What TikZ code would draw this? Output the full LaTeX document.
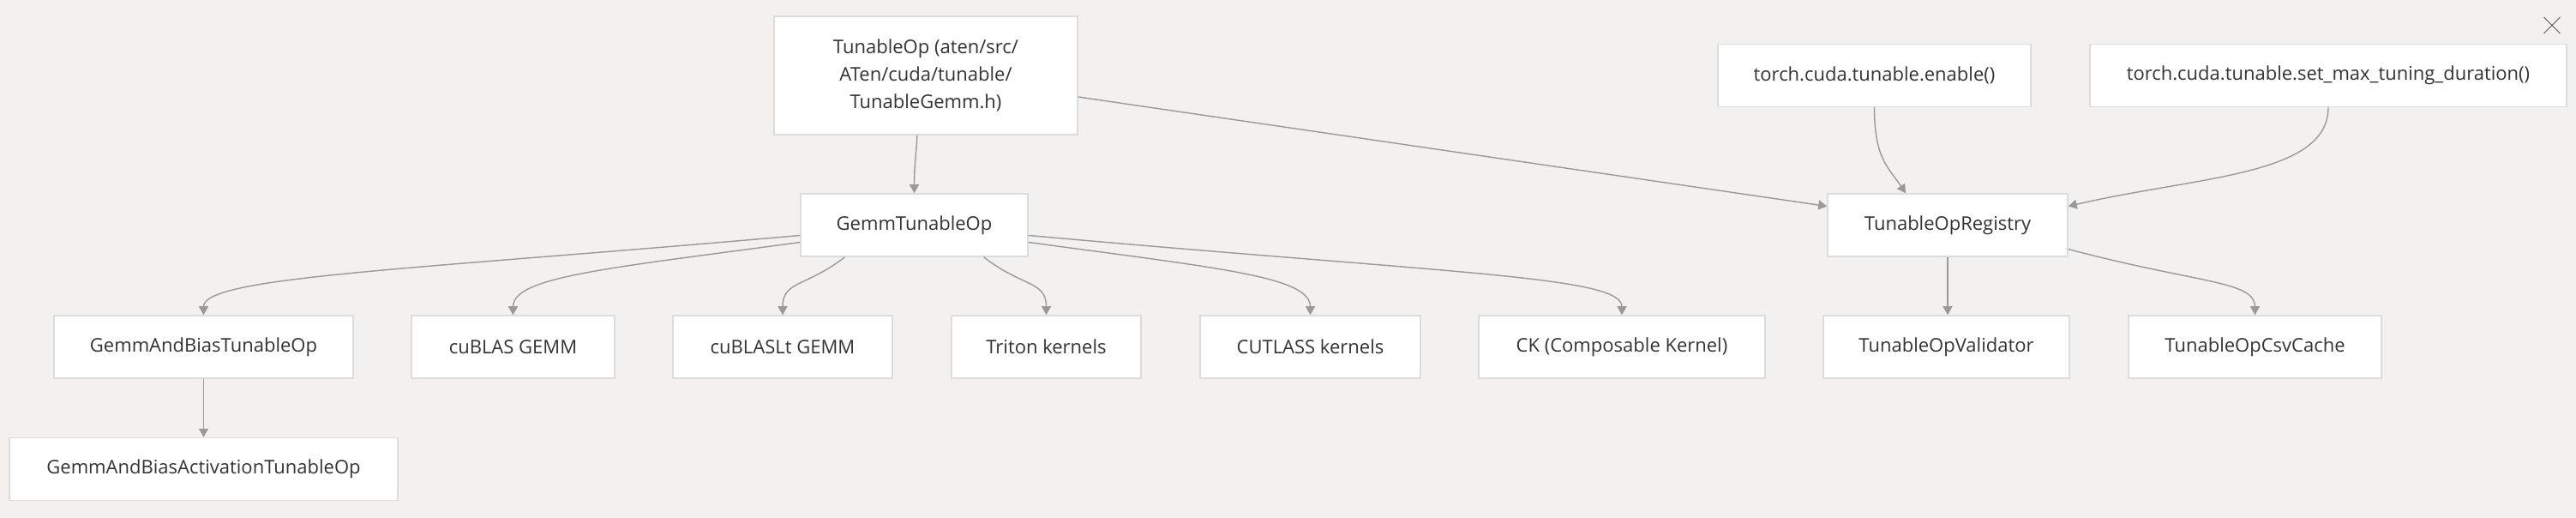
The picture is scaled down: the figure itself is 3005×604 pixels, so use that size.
\documentclass[tikz,border=0pt]{standalone}
\usepackage{fontspec}
\setmainfont{Open Sans}
\usepackage{tikz}
\usetikzlibrary{positioning, arrows.meta, shapes.misc}
\usepackage{xcolor}
\definecolor{bgcol}{HTML}{F2F1EF}
\definecolor{boxline}{HTML}{DCDCDC}
\definecolor{edgecol}{HTML}{999999}
\definecolor{txtcol}{HTML}{333333}

\begin{document}
\begin{tikzpicture}[
        x=0.5pt, y=0.5pt,
        box/.style={rectangle, draw=boxline, line width=0.75pt, fill=white, minimum height=36.5pt, align=center, text=txtcol, font=\fontsize{11}{16}\selectfont},
        edge/.style={-{Triangle[length=5pt, width=5.5pt]}, line width=0.7pt, draw=edgecol}
    ]
    % FONDO
    \fill[bgcol] (0,0) rectangle (3005,-604);
    \node[draw=txtcol!80, cross out, line width=0.5pt, minimum size=9pt, inner sep=0pt] (close) at (2977,-29.5) {};

    % NIVEL SUPERIOR
    \node[box, minimum width=177pt, minimum height=69pt] (top) at (1080,-88) {TunableOp (aten/src/\\ATen/cuda/tunable/\\TunableGemm.h)};
    \node[box, minimum width=182.5pt] (enable) at (2186.5,-88) {torch.cuda.tunable.enable()};
    \node[box, minimum width=278pt] (setmax) at (2716,-88) {torch.cuda.tunable.set\_max\_tuning\_duration()};

    % NIVEL MEDIO
    \node[box, minimum width=132.5pt] (gemm) at (1066.5,-262.5) {GemmTunableOp};
    \node[box, minimum width=140pt] (registry) at (2272,-262.5) {TunableOpRegistry};

    % NIVEL INFERIOR
    \node[box, minimum width=174.5pt] (gabias) at (237.5,-404.5) {GemmAndBiasTunableOp};
    \node[box, minimum width=118.5pt] (cublas) at (598.5,-404.5) {cuBLAS GEMM};
    \node[box, minimum width=128pt] (cublaslt) at (913,-404.5) {cuBLASLt GEMM};
    \node[box, minimum width=110.5pt] (triton) at (1220.5,-404.5) {Triton kernels};
    \node[box, minimum width=128.5pt] (cutlass) at (1528.5,-404.5) {CUTLASS kernels};
    \node[box, minimum width=167pt] (ck) at (1892,-404.5) {CK (Composable Kernel)};
    \node[box, minimum width=143.5pt] (validator) at (2270.5,-404.5) {TunableOpValidator};
    \node[box, minimum width=147.5pt] (csvcache) at (2630.5,-404.5) {TunableOpCsvCache};
    \node[box, minimum width=226.5pt, below=34pt of gabias] (gabact) {GemmAndBiasActivationTunableOp};

    % Flechas
    \draw[edge] ([xshift=-5pt]top.south) .. controls +(-2,-30) and +(0,30) .. (gemm.north);
    \draw[edge] ([yshift=-12.5pt]top.east) -- ([yshift=11pt]registry.west);
    \draw[edge] (enable.south) .. controls +(0,-60) and +(-20,30) .. ([xshift=-24.5pt]registry.north);
    \draw[edge] (setmax.south) .. controls +(0,-80) and +(150,35) .. ([yshift=11pt]registry.east);

    \draw[edge] ([yshift=-6pt]gemm.west) .. controls +(-450,-40) and +(0,45) .. (gabias.north);
    \draw[edge] ([yshift=-10pt]gemm.west) .. controls +(-220,-30) and +(0,45) .. (cublas.north);
    \draw[edge] ([xshift=-40.5pt]gemm.south) .. controls +(-45,-35) and +(0,40) .. (cublaslt.north);
    \draw[edge] ([xshift=40.5pt]gemm.south) .. controls +(45,-35) and +(0,40) .. (triton.north);
    \draw[edge] ([yshift=-10pt]gemm.east) .. controls +(220,-30) and +(0,45) .. (cutlass.north);
    \draw[edge] ([yshift=-6pt]gemm.east) .. controls +(500,-45) and +(0,45) .. (ck.north);

    \draw[edge] (gabias) -- (gabact);
    \draw[edge] (registry.south) -- (registry.south |- validator.north);
    \draw[edge] ([yshift=-14pt]registry.east) .. controls +(150,-40) and +(0,40) .. (csvcache.north);
\end{tikzpicture}
\end{document}
